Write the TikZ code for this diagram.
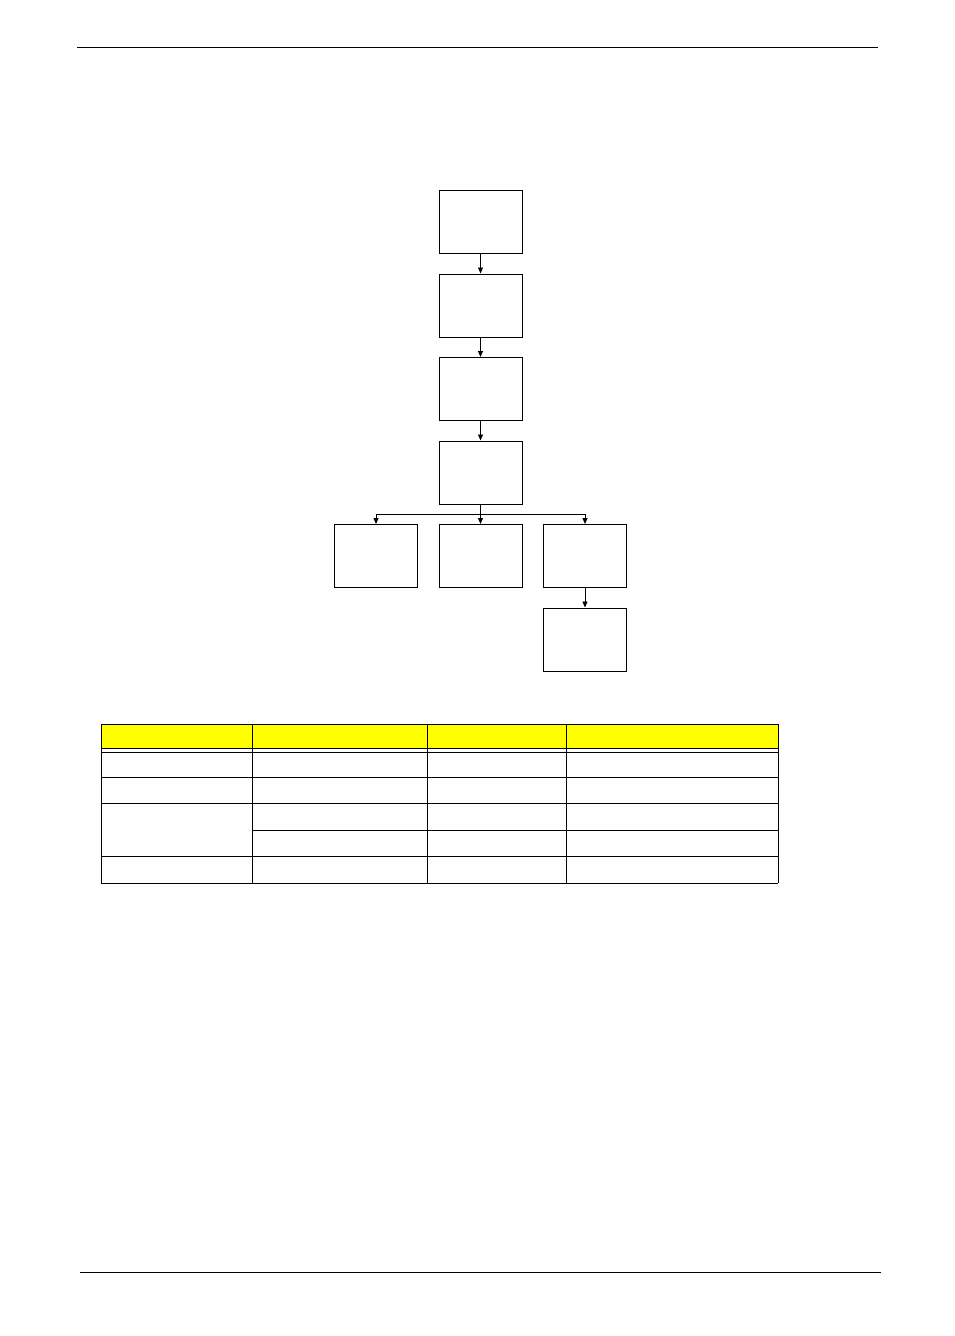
\documentclass[tikz,border=0pt]{standalone}
\usetikzlibrary{arrows.meta}

\definecolor{headyellow}{RGB}{255,255,0}
\tikzset{
	stepbox/.style={draw, line width=1pt, minimum width=83pt, minimum height=63pt, inner sep=0pt},
	flow/.style={line width=0.8pt, -{Triangle[length=6pt,width=5pt]}},
}

\begin{document}
\begin{tikzpicture}[x=1pt,y=-1pt]
	\useasboundingbox (0,0) rectangle (954,1336);
	\draw[line width=1pt] (77,47) -- (878,47);
	\draw[line width=1pt] (80,1272) -- (881,1272);
	% flow chart
	\node[stepbox] (s1) at (480.5,221.5) {};
	\node[stepbox] (s2) at (480.5,305.5) {};
	\node[stepbox] (s3) at (480.5,389) {};
	\node[stepbox] (s4) at (480.5,472.5) {};
	\node[stepbox] (sl) at (376,556) {};
	\node[stepbox] (sm) at (480.5,556) {};
	\node[stepbox] (sr) at (585,556) {};
	\node[stepbox] (sb) at (585,639.5) {};
	\coordinate (fork) at (480.5,514);
	\draw[flow] (s1) -- (s2);
	\draw[flow] (s2) -- (s3);
	\draw[flow] (s3) -- (s4);
	\draw[line width=0.8pt] (s4.south) -- (fork);
	\draw[flow] (fork) -| (sl.north);
	\draw[flow] (fork) -- (sm.north);
	\draw[flow] (fork) -| (sr.north);
	\draw[flow] (sr) -- (sb);
	% table
	\fill[headyellow] (101,724) rectangle (778,748);
	\draw[line width=1pt] (101,724) -- (778,724);
	\foreach \y in {748,752,777,803.5,856,883}
		\draw[line width=1pt] (101,\y) -- (778,\y);
	\draw[line width=1pt] (252,830) -- (778,830);
	\foreach \x in {101,252,427,566,778}
		\draw[line width=1pt] (\x,724) -- (\x,883);
\end{tikzpicture}
\end{document}
